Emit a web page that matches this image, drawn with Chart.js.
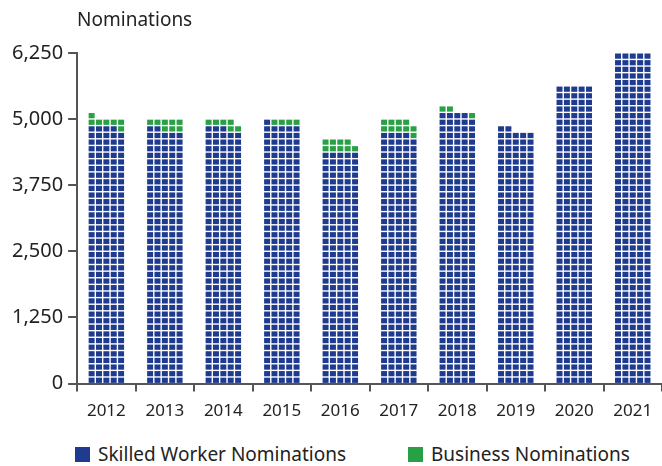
<!DOCTYPE html>
<html>
<head>
<meta charset="utf-8">
<script src="https://cdn.jsdelivr.net/npm/chart.js@4.4.1/dist/chart.umd.min.js"></script>
<style>
  html, body { margin:0; padding:0; background:#fff; }
  #wrap { position:relative; width:662px; height:466px; }
  #legend { position:absolute; left:0; top:441px; width:662px; height:25px;
            font:19px "Noto Sans", sans-serif; color:#222; }
  #legend span.item { position:absolute; top:0; display:flex; align-items:center; white-space:nowrap; }
  #legend i { display:inline-block; width:15px; height:15px; margin-right:8px; }
</style>
</head>
<body>
<div id="wrap">
  <canvas id="chart" width="662" height="430"></canvas>
  <div id="legend"></div>
</div>
<script>
// ── Data (each waffle cell = 25 nominations, 5 cells per row) ───────────────
const years    = ['2012','2013','2014','2015','2016','2017','2018','2019','2020','2021'];
const skilled  = [4850, 4800, 4825, 4900, 4375, 4725, 5100, 4800, 5625, 6250];
const business = [ 175,  200,  150,  100,  225,  250,   75,    0,    0,    0];
const yTicks   = [0, 1250, 2500, 3750, 5000, 6250];
const seriesNames = ['Skilled Worker Nominations', 'Business Nominations'];

const CELL = 25, COLS = 5;
const BLUE = '#1f3b8f', GREEN = '#2aa045', AXIS = '#555';
const FONT = '"Noto Sans", sans-serif';

// ── Waffle painter: each bar is split into cells through the y scale ────────
const waffle = {
  id: 'waffle',
  afterDatasetsDraw(chart) {
    const { ctx, scales:{ y } } = chart;
    const meta = chart.getDatasetMeta(0);
    const rowH = y.getPixelForValue(0) - y.getPixelForValue(CELL*COLS);
    const y0 = y.getPixelForValue(0);
    const gap = 1.4;
    ctx.save();
    meta.data.forEach((bar, i) => {
      const left = bar.x - bar.width/2, cw = bar.width / COLS;
      const s = Math.round(skilled[i]/CELL), n = s + Math.round(business[i]/CELL);
      for (let k = 0; k < n; k++) {
        const row = Math.floor(k/COLS), col = k % COLS;
        ctx.fillStyle = k < s ? BLUE : GREEN;
        ctx.fillRect(left + col*cw + gap/2, y0 - (row+1)*rowH + gap/2, cw - gap, rowH - gap);
      }
    });
    ctx.restore();
  }
};

new Chart(document.getElementById('chart').getContext('2d'), {
  type: 'bar',
  data: {
    labels: years,
    datasets: [
      { label:seriesNames[0], data:skilled,  backgroundColor:'rgba(0,0,0,0)', borderWidth:0 },
      { label:seriesNames[1], data:business, backgroundColor:'rgba(0,0,0,0)', borderWidth:0 }
    ]
  },
  options: {
    responsive:false, animation:false,
    layout:{ padding:{ left:7, right:0, top:0, bottom:0 } },
    datasets:{ bar:{ barPercentage:0.63, categoryPercentage:1 } },
    plugins: {
      title: {
        display:true, text:'Nominations', align:'start', fullSize:false,
        color:'#222', font:{ family:FONT, size:19, weight:'normal' },
        padding:{ top:9, bottom:21 }
      },
      legend:{ display:false },
      tooltip:{ enabled:false }
    },
    scales: {
      x: {
        stacked:true,
        grid:{ display:true, drawOnChartArea:false, drawTicks:true, tickLength:8, color:AXIS, lineWidth:2 },
        border:{ display:true, color:AXIS, width:2 },
        ticks:{ color:'#222', font:{ family:FONT, size:17 }, padding:9 }
      },
      y: {
        stacked:true, min:0, max:6250,
        afterBuildTicks: axis => { axis.ticks = yTicks.map(v => ({ value:v })); },
        grid:{ display:true, drawOnChartArea:false, drawTicks:true, tickLength:9, color:AXIS, lineWidth:2 },
        border:{ display:true, color:AXIS, width:2 },
        ticks:{ color:'#222', font:{ family:FONT, size:20 }, padding:5,
                callback: v => v.toLocaleString('en-US') }
      }
    }
  },
  plugins:[waffle]
});

// ── Legend (HTML) ───────────────────────────────────────────────────────────
const legendEl = document.getElementById('legend');
[[seriesNames[0], BLUE, 75], [seriesNames[1], GREEN, 408]].forEach(([name, color, x]) => {
  const item = document.createElement('span');
  item.className = 'item';
  item.style.left = x + 'px';
  item.innerHTML = '<i style="background:' + color + '"></i>' + name;
  legendEl.appendChild(item);
});
</script>
</body>
</html>
